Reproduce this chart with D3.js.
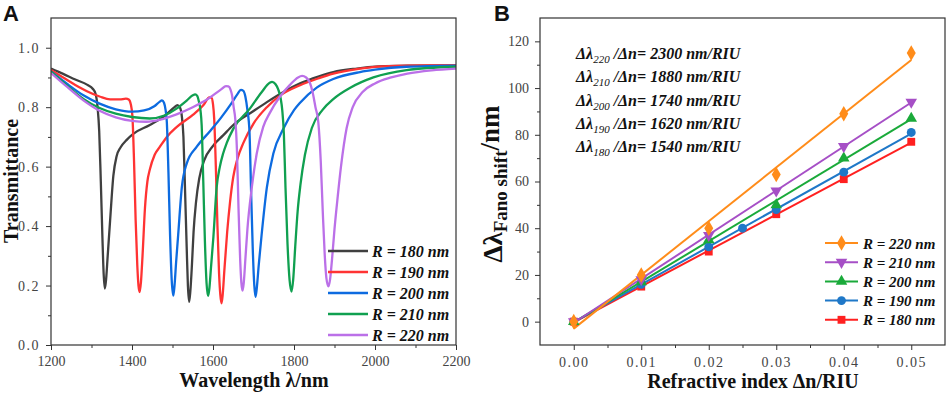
<!DOCTYPE html>
<html>
<head>
<meta charset="utf-8">
<script src="https://cdn.jsdelivr.net/npm/d3@7"></script>
<style>
  body { margin: 0; background: #fff; }
  svg { display: block; }
  .tick text { font-family: "Liberation Serif", "Times New Roman", serif; font-size: 14px; fill: #444; }
  .tick line { stroke: #333; stroke-width: 1; }
  .axisTitle { font-family: "Liberation Serif", "Times New Roman", serif; font-weight: bold; font-size: 20px; fill: #111; }
  .legText { font-family: "Liberation Serif", "Times New Roman", serif; font-weight: bold; font-style: italic; fill: #111; }
  .panelLabel { font-family: "Liberation Sans", Arial, sans-serif; font-weight: bold; font-size: 22px; fill: #111; }
</style>
</head>
<body>
<div id="chart"></div>
<script>
// ---------- panel A : transmittance spectra ----------
var radiiA = ["180", "190", "200", "210", "220"];
var colorsA = ["#404040", "#ff3333", "#0d6be0", "#10a050", "#bb70e8"];

var curve180 = [[1200,0.93],[1230,0.912],[1260,0.893],[1290,0.875],[1303,0.862],[1310,0.845],[1315,0.80],[1319,0.72],[1323,0.55],[1327,0.36],[1330,0.24],[1333,0.19],[1336,0.22],[1340,0.30],[1346,0.42],[1354,0.57],[1362,0.635],[1372,0.665],[1387,0.69],[1403,0.71],[1444,0.74],[1480,0.77],[1505,0.80],[1512,0.807],[1518,0.80],[1523,0.77],[1527,0.70],[1531,0.52],[1535,0.33],[1538,0.2],[1541,0.145],[1544,0.18],[1548,0.27],[1552,0.38],[1558,0.48],[1566,0.56],[1578,0.62],[1600,0.67],[1625,0.705],[1650,0.74],[1700,0.787],[1733,0.817],[1775,0.852],[1815,0.88],[1860,0.903],[1897,0.918],[1955,0.93],[2010,0.937],[2080,0.94],[2200,0.941]];
var curve190 = [[1200,0.925],[1230,0.9],[1260,0.875],[1290,0.853],[1320,0.836],[1346,0.826],[1370,0.826],[1385,0.829],[1392,0.826],[1397,0.81],[1401,0.77],[1405,0.62],[1409,0.42],[1413,0.27],[1416,0.2],[1419,0.178],[1422,0.21],[1426,0.30],[1432,0.46],[1438,0.55],[1444,0.59],[1456,0.64],[1469,0.667],[1486,0.7],[1510,0.733],[1551,0.775],[1578,0.81],[1591,0.833],[1596,0.832],[1600,0.81],[1603,0.76],[1607,0.6],[1611,0.4],[1615,0.24],[1618,0.17],[1621,0.14],[1624,0.17],[1628,0.25],[1635,0.38],[1642,0.48],[1650,0.565],[1660,0.625],[1675,0.68],[1700,0.745],[1733,0.8],[1770,0.843],[1815,0.874],[1860,0.897],[1897,0.913],[1963,0.93],[2050,0.939],[2200,0.941]];
var curve200 = [[1200,0.92],[1240,0.878],[1280,0.84],[1320,0.812],[1360,0.793],[1400,0.785],[1430,0.789],[1455,0.803],[1468,0.818],[1474,0.823],[1479,0.815],[1483,0.79],[1486,0.75],[1490,0.58],[1494,0.37],[1498,0.22],[1502,0.166],[1505,0.2],[1509,0.28],[1514,0.37],[1523,0.53],[1535,0.61],[1560,0.667],[1593,0.72],[1620,0.765],[1645,0.812],[1660,0.843],[1669,0.858],[1675,0.855],[1680,0.835],[1685,0.79],[1690,0.72],[1694,0.52],[1698,0.33],[1702,0.2],[1705,0.162],[1708,0.19],[1713,0.27],[1720,0.37],[1733,0.53],[1749,0.644],[1774,0.728],[1800,0.79],[1815,0.815],[1856,0.866],[1897,0.895],[1963,0.918],[2000,0.926],[2078,0.936],[2200,0.94]];
var curve210 = [[1200,0.92],[1240,0.872],[1280,0.828],[1320,0.797],[1360,0.778],[1400,0.767],[1444,0.762],[1480,0.772],[1510,0.795],[1535,0.822],[1550,0.84],[1556,0.843],[1561,0.838],[1565,0.82],[1569,0.79],[1572,0.74],[1576,0.55],[1580,0.35],[1584,0.21],[1588,0.165],[1591,0.19],[1595,0.26],[1601,0.364],[1609,0.53],[1617,0.6],[1625,0.644],[1634,0.68],[1650,0.727],[1691,0.795],[1720,0.85],[1740,0.882],[1746,0.885],[1754,0.878],[1761,0.86],[1767,0.83],[1771,0.79],[1775,0.71],[1779,0.53],[1784,0.34],[1789,0.22],[1794,0.18],[1798,0.22],[1803,0.33],[1809,0.45],[1816,0.54],[1827,0.64],[1844,0.73],[1870,0.79],[1897,0.827],[1940,0.866],[1996,0.9],[2078,0.925],[2200,0.936]];
var curve220 = [[1200,0.915],[1240,0.868],[1280,0.823],[1320,0.788],[1360,0.766],[1400,0.754],[1436,0.751],[1470,0.758],[1510,0.776],[1550,0.8],[1590,0.83],[1620,0.86],[1632,0.871],[1638,0.87],[1643,0.86],[1647,0.84],[1651,0.8],[1655,0.76],[1659,0.66],[1663,0.46],[1667,0.29],[1670,0.21],[1673,0.183],[1676,0.21],[1680,0.29],[1685,0.39],[1696,0.532],[1708,0.644],[1724,0.734],[1740,0.78],[1765,0.835],[1790,0.875],[1810,0.9],[1820,0.905],[1830,0.9],[1839,0.883],[1846,0.85],[1853,0.8],[1860,0.75],[1866,0.62],[1871,0.45],[1876,0.3],[1880,0.225],[1885,0.197],[1889,0.22],[1894,0.29],[1900,0.39],[1908,0.5],[1916,0.6],[1930,0.73],[1945,0.8],[1970,0.852],[2000,0.88],[2040,0.9],[2080,0.913],[2140,0.924],[2200,0.93]];
var curvesA = [curve180, curve190, curve200, curve210, curve220];

var xTicksA = [1200, 1400, 1600, 1800, 2000, 2200];
var yTicksA = [0.0, 0.2, 0.4, 0.6, 0.8, 1.0];

// ---------- panel B : fano shift vs refractive index ----------
var dn = [0, 0.01, 0.02, 0.03, 0.04, 0.05];
var dn190 = [0, 0.01, 0.02, 0.025, 0.03, 0.04, 0.05];
var shift220 = [0, 20, 40, 63, 89, 115];
var shift210 = [0, 18, 37, 56, 75, 94];
var shift200 = [0, 17, 35, 50, 70, 87];
var shift190 = [0, 16, 32, 40, 48, 64, 81];
var shift180 = [0, 15, 30, 46, 61, 77];

var radiiB = ["220", "210", "200", "190", "180"];
var colorsB = ["#ff8c1a", "#a64fc6", "#1aaa3a", "#1f78c8", "#ff2020"];
var sensitivity = ["2300", "1880", "1740", "1620", "1540"];

var xTicksB = [0, 0.01, 0.02, 0.03, 0.04, 0.05];
var yTicksB = [0, 20, 40, 60, 80, 100, 120];

var width = 948, height = 394;

var svg = d3.select("#chart")
    .append("svg")
    .attr("width", width)
    .attr("height", height);

// ===== panel A =====
var plotA = {left: 51, top: 18, right: 456, bottom: 345};

var xA = d3.scaleLinear().domain([1200, 2200]).range([plotA.left, plotA.right]);
var yA = d3.scaleLinear().domain([0, 1.1]).range([plotA.bottom, plotA.top]);

svg.append("g")
    .attr("transform", `translate(0,${plotA.bottom})`)
    .call(d3.axisBottom(xA).tickValues(d3.range(1300, 2200, 200)).tickSize(3).tickFormat(""))
    .call(g => g.select(".domain").remove());
svg.append("g")
    .attr("transform", `translate(0,${plotA.bottom})`)
    .call(d3.axisBottom(xA).tickValues(xTicksA).tickSize(5).tickPadding(6).tickFormat(d3.format("d")))
    .call(g => g.select(".domain").remove());

svg.append("g")
    .attr("transform", `translate(${plotA.left},0)`)
    .call(d3.axisLeft(yA).tickValues([0.1, 0.3, 0.5, 0.7, 0.9]).tickSize(3).tickFormat(""))
    .call(g => g.select(".domain").remove());
svg.append("g")
    .attr("transform", `translate(${plotA.left},0)`)
    .call(d3.axisLeft(yA).tickValues(yTicksA).tickSize(5).tickPadding(6).tickFormat(d3.format(".1f")))
    .call(g => g.select(".domain").remove())
    .selectAll("text").style("letter-spacing", "1.5px");

svg.append("clipPath").attr("id", "clipA")
    .append("rect")
    .attr("x", plotA.left).attr("y", plotA.top)
    .attr("width", plotA.right - plotA.left).attr("height", plotA.bottom - plotA.top);

var lineA = d3.line()
    .x(function(d) { return xA(d[0]); })
    .y(function(d) { return yA(d[1]); })
    .curve(d3.curveMonotoneX);

svg.append("g").attr("clip-path", "url(#clipA)")
    .selectAll("path")
    .data(curvesA)
    .enter()
    .append("path")
        .attr("d", lineA)
        .attr("fill", "none")
        .attr("stroke", function(d, i) { return colorsA[i]; })
        .attr("stroke-width", 2.3);

svg.append("rect")
    .attr("x", plotA.left).attr("y", plotA.top)
    .attr("width", plotA.right - plotA.left).attr("height", plotA.bottom - plotA.top)
    .attr("fill", "none").attr("stroke", "#333").attr("stroke-width", 1.2);

var legA = svg.append("g").selectAll("g")
    .data(radiiA)
    .enter()
    .append("g")
    .attr("transform", function(d, i) { return `translate(328,${251 + i * 21})`; });
legA.append("line")
    .attr("x1", 0).attr("x2", 40)
    .attr("stroke", function(d, i) { return colorsA[i]; })
    .attr("stroke-width", 2.5);
legA.append("text")
    .attr("class", "legText")
    .attr("x", 44).attr("y", 6)
    .style("font-size", "16px")
    .text(function(d) { return "R = " + d + " nm"; });

svg.append("text")
    .attr("class", "axisTitle")
    .attr("transform", "translate(18,181) rotate(-90)")
    .attr("text-anchor", "middle")
    .text("Transmittance");

svg.append("text")
    .attr("class", "axisTitle")
    .attr("x", 254).attr("y", 387)
    .attr("text-anchor", "middle")
    .text("Wavelength λ/nm");

svg.append("text").attr("class", "panelLabel").attr("x", 3).attr("y", 21).text("A");

// ===== panel B =====
var plotB = {left: 540, top: 18, right: 945, bottom: 345};

var xB = d3.scaleLinear().domain([-0.005, 0.055]).range([plotB.left, plotB.right]);
var yB = d3.scaleLinear().domain([-10, 130]).range([plotB.bottom, plotB.top]);

svg.append("g")
    .attr("transform", `translate(0,${plotB.bottom})`)
    .call(d3.axisBottom(xB).tickValues([0.005, 0.015, 0.025, 0.035, 0.045]).tickSize(3).tickFormat(""))
    .call(g => g.select(".domain").remove());
svg.append("g")
    .attr("transform", `translate(0,${plotB.bottom})`)
    .call(d3.axisBottom(xB).tickValues(xTicksB).tickSize(5).tickPadding(7).tickFormat(d3.format(".2f")))
    .call(g => g.select(".domain").remove())
    .selectAll("text").style("letter-spacing", "1.5px");

svg.append("g")
    .attr("transform", `translate(${plotB.left},0)`)
    .call(d3.axisLeft(yB).tickValues([10, 30, 50, 70, 90, 110]).tickSize(3).tickFormat(""))
    .call(g => g.select(".domain").remove());
svg.append("g")
    .attr("transform", `translate(${plotB.left},0)`)
    .call(d3.axisLeft(yB).tickValues(yTicksB).tickSize(5).tickPadding(6).tickFormat(d3.format("d")))
    .call(g => g.select(".domain").remove());

// series table built from the arrays above
var seriesB = [
    {r: "180", color: colorsB[4], xs: dn, ys: shift180, shape: d3.symbolSquare, rot: 0, size: 62},
    {r: "190", color: colorsB[3], xs: dn190, ys: shift190, shape: d3.symbolCircle, rot: 0, size: 62},
    {r: "200", color: colorsB[2], xs: dn, ys: shift200, shape: d3.symbolTriangle, rot: 0, size: 58},
    {r: "210", color: colorsB[1], xs: dn, ys: shift210, shape: d3.symbolTriangle, rot: 180, size: 58},
    {r: "220", color: colorsB[0], xs: dn, ys: shift220, shape: d3.symbolDiamond, rot: 0, size: 70}
];

// least squares fit for each series
function linFit(xs, ys) {
    var mx = d3.mean(xs), my = d3.mean(ys);
    var sxy = d3.sum(xs, function(x, i) { return (x - mx) * (ys[i] - my); });
    var sxx = d3.sum(xs, function(x) { return (x - mx) * (x - mx); });
    var k = sxy / sxx;
    return {k: k, b: my - k * mx};
}

seriesB.forEach(function(s) {
    var f = linFit(s.xs, s.ys);
    var x0 = d3.min(s.xs), x1 = d3.max(s.xs);
    svg.append("line")
        .attr("x1", xB(x0)).attr("y1", yB(f.b + f.k * x0))
        .attr("x2", xB(x1)).attr("y2", yB(f.b + f.k * x1))
        .attr("stroke", s.color)
        .attr("stroke-width", 2);
});

seriesB.forEach(function(s) {
    svg.append("g").selectAll("path")
        .data(s.xs)
        .enter()
        .append("path")
            .attr("d", d3.symbol().type(s.shape).size(s.size))
            .attr("transform", function(d, i) { return `translate(${xB(d)},${yB(s.ys[i])}) rotate(${s.rot})`; })
            .attr("fill", s.color);
});

svg.append("rect")
    .attr("x", plotB.left).attr("y", plotB.top)
    .attr("width", plotB.right - plotB.left).attr("height", plotB.bottom - plotB.top)
    .attr("fill", "none").attr("stroke", "#333").attr("stroke-width", 1.2);

// legend, top to bottom 220 .. 180
var legB = svg.append("g").selectAll("g")
    .data(seriesB.slice().reverse())
    .enter()
    .append("g")
    .attr("transform", function(d, i) { return `translate(825,${243 + i * 19.2})`; });
legB.append("line")
    .attr("x1", 0).attr("x2", 33)
    .attr("stroke", function(d) { return d.color; })
    .attr("stroke-width", 2);
legB.append("path")
    .attr("d", function(d) { return d3.symbol().type(d.shape).size(d.size)(); })
    .attr("transform", function(d) { return `translate(16.5,0) rotate(${d.rot})`; })
    .attr("fill", function(d) { return d.color; });
legB.append("text")
    .attr("class", "legText")
    .attr("x", 38).attr("y", 5.5)
    .style("font-size", "15px")
    .text(function(d) { return "R = " + d.r + " nm"; });

// sensitivity annotations
var ann = svg.append("g").selectAll("text")
    .data(radiiB)
    .enter()
    .append("text")
    .attr("class", "legText")
    .attr("x", 576)
    .attr("y", function(d, i) { return 59 + i * 23.3; })
    .style("font-size", "16px");
ann.append("tspan").text("Δλ");
ann.append("tspan")
    .attr("dy", 4).style("font-size", "11px").style("font-weight", "normal")
    .text(function(d) { return d; });
ann.append("tspan")
    .attr("dy", -4)
    .text(function(d, i) { return " /Δn= " + sensitivity[i] + " nm/RIU"; });

var yTitleB = svg.append("text")
    .attr("class", "axisTitle")
    .attr("transform", "translate(502,184) rotate(-90)")
    .attr("text-anchor", "middle")
    .style("font-size", "27px");
yTitleB.append("tspan").text("Δλ");
yTitleB.append("tspan").attr("dy", 5).style("font-size", "19px").text("Fano shift");
yTitleB.append("tspan").attr("dy", -8).text("/nm");

svg.append("text")
    .attr("class", "axisTitle")
    .attr("x", 753).attr("y", 388)
    .attr("text-anchor", "middle")
    .text("Refractive index Δn/RIU");

svg.append("text").attr("class", "panelLabel").attr("x", 494).attr("y", 21).text("B");
</script>
</body>
</html>
